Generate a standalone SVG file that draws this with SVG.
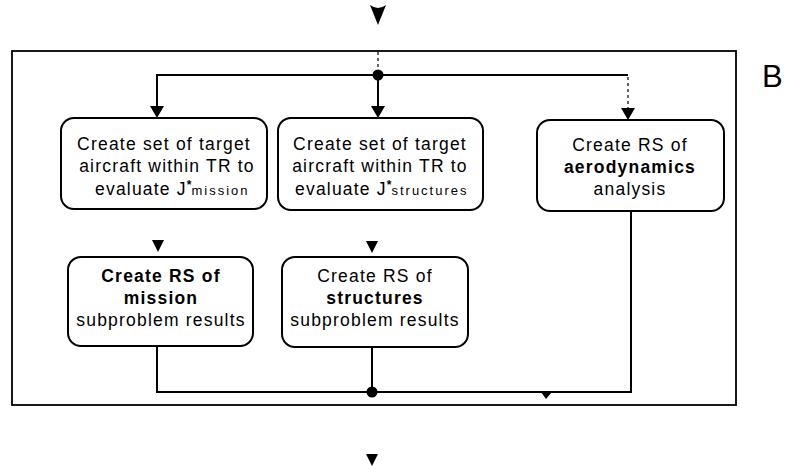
<svg xmlns="http://www.w3.org/2000/svg" width="788" height="471" viewBox="0 0 788 471">
<style>
.box{fill:#fff;stroke:#000;stroke-width:2}
.t{font-family:"Liberation Sans",Arial,sans-serif;font-size:17.5px;letter-spacing:1.2px;fill:#000;text-anchor:middle}
.s{text-anchor:start}
.b{font-weight:bold}
.sub{font-size:13px;letter-spacing:2px}
.sup{font-size:12px;font-weight:bold;letter-spacing:0}
.ln{fill:none;stroke:#000;stroke-width:2}
.dl{fill:none;stroke:#000;stroke-width:1.2;stroke-dasharray:3 3}
.ah{fill:#000;stroke:none}
</style>
<rect width="788" height="471" fill="#fff"/>
<g id="frame">
<rect x="12" y="51" width="724" height="354" fill="none" stroke="#000" stroke-width="1.8"/>
<text x="762" y="87" style="font-family:'Liberation Sans',Arial,sans-serif;font-size:31px;fill:#000">B</text>
</g>
<g id="connectors">
<path class="ah" d="M370,5 Q378,11 386,5 L378,25 Z"/>
<path class="dl" d="M378,52 V72"/>
<path class="ln" d="M157,106 V75 H628"/>
<path class="ln" d="M378,75 V106"/>
<path class="dl" d="M628,77 V108"/>
<circle cx="378" cy="75" r="5.5" fill="#000"/>
<polygon class="ah" points="150,106 164,106 157,118"/>
<polygon class="ah" points="371,106 385,106 378,118"/>
<polygon class="ah" points="621,108 635,108 628,120"/>
<polygon class="ah" points="152,240 164,240 158,252"/>
<polygon class="ah" points="366,241 378,241 372,253"/>
<path class="ln" d="M157,346 V392 H631 V211"/>
<path class="ln" d="M372,347 V392"/>
<circle cx="372" cy="392" r="5.5" fill="#000"/>
<polygon class="ah" points="541,392 552,392 546,399"/>
<polygon class="ah" points="366,454 378,454 372,466"/>
</g>
<g id="n1">
<rect class="box" x="61" y="118" width="206" height="91" rx="13"/>
<text class="t" x="164" y="150">Create set of target</text>
<text class="t" x="167" y="172">aircraft within TR to</text>
<text class="t s" x="95" y="195">evaluate J<tspan class="sup" dy="-6">*</tspan><tspan class="sub" dy="6">mission</tspan></text>
</g>
<g id="n2">
<rect class="box" x="278" y="118" width="205" height="92" rx="13"/>
<text class="t" x="380" y="150">Create set of target</text>
<text class="t" x="380" y="172">aircraft within TR to</text>
<text class="t s" x="295" y="195">evaluate J<tspan class="sup" dy="-6">*</tspan><tspan class="sub" dy="6">structures</tspan></text>
</g>
<g id="n3">
<rect class="box" x="537" y="120" width="187" height="91" rx="13"/>
<text class="t" x="630" y="151">Create RS of</text>
<text class="t b" x="630" y="173">aerodynamics</text>
<text class="t" x="630" y="195">analysis</text>
</g>
<g id="n4">
<rect class="box" x="68" y="257" width="185" height="89" rx="13"/>
<text class="t b" x="161" y="282">Create RS of</text>
<text class="t b" x="161" y="304">mission</text>
<text class="t" x="161" y="326">subproblem results</text>
</g>
<g id="n5">
<rect class="box" x="282" y="257" width="186" height="90" rx="13"/>
<text class="t" x="375" y="282">Create RS of</text>
<text class="t b" x="375" y="304">structures</text>
<text class="t" x="375" y="326">subproblem results</text>
</g>
</svg>
